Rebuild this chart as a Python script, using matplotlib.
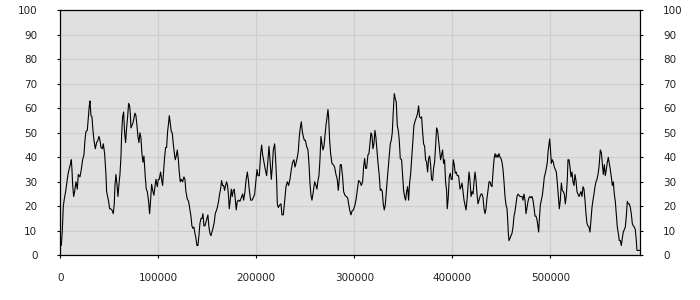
import numpy as np
from matplotlib import pyplot as plt

plt.rcParams.update({'font.size': 7.5, 'font.family': 'DejaVu Sans'})

# first stretch (0 .. ~183k)
pos_a = [0, 1020, 2040, 3060, 4080, 5440, 6460, 7820, 9180, 10540,
         11220, 11900, 12580, 13600, 14620, 15980, 17340, 18360, 20060, 21420,
         22780, 24140, 25160, 26180, 27540, 28560, 29580, 30260, 31280, 32300,
         33320, 34340, 35700, 37060, 38420, 39440, 40460, 41480, 42840, 43860,
         45220, 46580, 47260, 48280, 49300, 50320, 51340, 52700, 54060, 55080,
         55760, 56780, 57800, 58820, 59840, 60860, 61880, 62560, 63580, 64600,
         65620, 66640, 67660, 68680, 69700, 70720, 71400, 72080, 73100, 74120,
         75140, 76160, 77180, 78200, 79220, 80240, 81260, 82280, 83300, 84320,
         85340, 86700, 87720, 88740, 90100, 91120, 92140, 93160, 94520, 95540,
         96560, 97580, 98940, 99960, 100980, 102340, 103360, 104380, 105400, 106420,
         107440, 108460, 109480, 110500, 111180, 112200, 113220, 114240, 115260, 116280,
         117300, 118320, 119340, 120360, 121380, 122400, 123420, 124780, 126140, 127160,
         128180, 129540, 130900, 132260, 133280, 134300, 135320, 136340, 137360, 138380,
         139400, 140420, 141440, 142460, 143480, 144500, 145520, 146540, 147560, 148580,
         149600, 150620, 151640, 152660, 153680, 154700, 156060, 157080, 158100, 159460,
         160480, 161500, 162520, 163540, 164560, 165580, 166600, 167620, 168640, 169660,
         170680, 171700, 172380, 173400, 174420, 175440, 176460, 177480, 178500, 179520,
         180540, 181900, 183260]
val_a = [5, 4, 10, 20, 23, 26, 29, 33, 35.5, 37.5,
         39, 35, 29, 24, 26, 30, 27, 33, 32, 35,
         39, 41, 47, 50.5, 51, 56, 61, 63, 57, 56.5,
         51, 47, 43.5, 46, 47, 48.5, 47, 44, 43.5, 45.5,
         41.5, 33, 26, 24, 22, 19, 19, 18.5, 17, 21,
         28.5, 33, 29, 24, 29, 33, 40, 49, 56.5, 58.5,
         50, 46, 52, 56.5, 62, 61, 58, 52, 53, 54,
         56, 58, 57, 53, 48.5, 46, 50, 48, 41.5, 38,
         40.5, 32, 27, 26, 22, 17, 22.5, 29, 26, 24.5,
         28, 31, 28, 31, 31, 34, 31, 28.5, 34, 40,
         44, 44, 50.5, 54, 57, 54, 50.5, 50, 45.5, 42,
         39, 40.5, 43, 39.5, 34, 30, 31, 30, 32, 31,
         26, 23, 22, 18.5, 16, 12, 11, 11.5, 9, 7,
         4, 4, 8, 13, 15, 15, 17, 12, 12, 13.5,
         15, 16.5, 11.5, 9, 8, 9.5, 11.5, 13.5, 17, 18.5,
         20, 22, 25, 27, 30.5, 28.5, 28.5, 26.5, 28.5, 30,
         28.5, 24, 19, 22.5, 27, 24, 26.5, 27, 23, 18.5,
         22, 22.5, 22]

# middle stretch (~184k .. ~407k)
pos_b = [184700, 186060, 187080, 188440, 189460, 190820, 191840, 192860, 194220, 195580,
         196940, 198300, 199660, 200680, 201700, 203060, 204420, 205440, 206460, 207820,
         209180, 210540, 211900, 212920, 213940, 215300, 216320, 217340, 218700, 219720,
         220740, 221420, 222440, 223800, 225160, 226180, 227540, 228900, 230260, 231620,
         232980, 234340, 235700, 237060, 238420, 239440, 240460, 241820, 242840, 243860,
         244880, 245900, 246920, 247940, 248960, 249980, 251340, 252700, 253720, 254740,
         255760, 256780, 258140, 259500, 260860, 261880, 262900, 263920, 264940, 265960,
         266980, 268000, 269020, 270040, 271060, 272080, 273100, 273780, 274800, 275820,
         277180, 278540, 279900, 281260, 282620, 283640, 284660, 285680, 286700, 288060,
         289080, 290440, 291800, 293160, 294180, 295540, 296560, 297580, 298940, 300300,
         301660, 303020, 304380, 305740, 307100, 308460, 309480, 310500, 311520, 312540,
         313900, 314920, 315940, 316960, 317980, 319000, 320020, 321040, 322060, 323080,
         324100, 325460, 326480, 327500, 328520, 329540, 330560, 331580, 332600, 333620,
         334640, 335660, 336680, 337700, 338720, 339740, 340760, 341780, 342800, 343820,
         344840, 345860, 346880, 348240, 349260, 350280, 351300, 352320, 353340, 354360,
         355380, 356400, 357420, 358440, 359460, 360820, 362180, 363540, 364560, 365580,
         366600, 367620, 368640, 369660, 370680, 371700, 372720, 373740, 374760, 375780,
         376800, 377820, 378840, 379860, 380880, 381900, 382920, 383940, 384960, 385980,
         387000, 388020, 389040, 390060, 391080, 392100, 393120, 394140, 394820, 395840,
         396860, 397880, 398900, 399920, 400940, 401960, 402980, 404000, 405020, 406380,
         407400]
val_b = [23.5, 25, 22.5, 26, 30.5, 34, 31, 26.5, 22.5, 22.5,
         23.5, 25, 30.5, 35, 32.5, 32.5, 41.5, 45, 41, 38,
         35, 32.5, 39, 44.5, 39, 31, 36, 43, 45.5, 39,
         30.5, 21, 19.5, 20.5, 21, 16.5, 16.5, 22, 28, 30,
         28.5, 31, 35, 38, 39, 36, 37.5, 40, 42.5, 48.5,
         52, 54.5, 50.5, 48.5, 47, 47, 44.5, 43, 37.5, 29.5,
         24.5, 22.5, 26, 30, 28.5, 27, 30.5, 32.5, 39, 48.5,
         45.5, 43, 44.5, 49, 53, 56, 59.5, 56.5, 47, 41.5,
         37.5, 37, 36, 33, 31, 26.5, 31, 37, 37, 32,
         26, 24.5, 24, 23.5, 21, 18, 16.5, 18, 18.5, 20,
         22.5, 26.5, 30.5, 30, 28.5, 30, 36, 39.5, 35.5, 35.5,
         41, 41.5, 45.5, 50, 49, 43.5, 45.5, 51, 48, 43,
         38, 32.5, 26.5, 27, 26, 21, 18.5, 20.5, 26, 31,
         36, 41, 45.5, 47, 50, 58.5, 66, 64, 62.5, 53,
         51, 47, 39.5, 39, 32.5, 26.5, 24, 22.5, 26, 28,
         22.5, 29.5, 33, 39, 45.5, 53, 55, 56.5, 58, 61,
         56.5, 56, 56.5, 50.5, 45.5, 44.5, 39, 38, 34, 39.5,
         40.5, 37, 31, 30.5, 35.5, 38, 44.5, 52, 51, 47,
         43, 39, 41, 43, 37.5, 39, 30, 26.5, 19, 23.5,
         32, 33.5, 31, 31, 39, 37, 33.5, 34, 32.5, 32.5,
         28.5]

# last stretch (~408k .. end)
pos_c = [407860, 408880, 409900, 410920, 411940, 412960, 413980, 415000, 416020, 417040,
         418060, 419080, 420100, 421120, 422140, 423160, 424180, 425200, 426220, 427240,
         428260, 429280, 430300, 431320, 432340, 433360, 434380, 435400, 436420, 437440,
         438460, 439480, 440500, 441520, 442540, 443560, 444580, 445600, 446620, 447640,
         448660, 449680, 450700, 451720, 452740, 453760, 454780, 455800, 456480, 457160,
         457840, 458860, 459880, 460900, 461920, 462940, 463960, 464980, 466000, 467020,
         468040, 469060, 470080, 471100, 472120, 473140, 474160, 475180, 476200, 477220,
         478240, 479260, 480280, 481300, 482320, 483340, 484360, 485380, 486400, 487420,
         488100, 488780, 489800, 490820, 491840, 492860, 493880, 494900, 495920, 496940,
         497620, 498640, 499320, 500000, 501020, 502040, 503060, 504080, 505100, 506120,
         507140, 508160, 509180, 510200, 511220, 512240, 513260, 514280, 515300, 516320,
         517340, 518020, 519040, 520060, 521080, 522100, 523120, 524140, 525160, 526180,
         527200, 528220, 529240, 530260, 531280, 532300, 533320, 534340, 535360, 536380,
         537400, 538420, 539440, 540460, 541480, 542500, 543520, 544540, 545560, 546580,
         547600, 548620, 549640, 550320, 551000, 552020, 553040, 554060, 555080, 556100,
         557120, 558140, 559160, 560180, 561200, 562220, 563240, 564260, 565280, 566300,
         567320, 568340, 569360, 570380, 571400, 572420, 573440, 574460, 575480, 576500,
         577520, 578540, 579560, 580580, 581600, 582620, 583640, 584660, 585680, 586700,
         587720, 588400, 589420, 590440, 591460]
val_c = [27, 28, 29.5, 26, 22.5, 20.5, 18.5, 22.5, 28, 34,
         30.5, 24, 26, 25, 30, 34, 30.5, 25, 21, 22.5,
         24, 25, 25, 23.5, 19, 17, 19, 23.5, 26.5, 30,
         30, 28.5, 28, 34, 39, 41.5, 40, 41, 40, 41.5,
         40, 39.5, 38, 35, 30, 24, 20.5, 19, 14.5, 9,
         6, 7, 8, 9, 11.5, 16, 18, 21, 24, 25,
         24.5, 24, 24, 24, 22.5, 25, 22.5, 17, 19.5, 22,
         23.5, 24, 23.5, 24, 22.5, 19.5, 16, 16, 14.5, 11.5,
         9.5, 14.5, 20.5, 22.5, 24.5, 28, 32, 33.5, 35.5, 38,
         42, 45.5, 47.5, 44, 37.5, 39, 38, 36, 35, 34,
         29.5, 24, 19, 22.5, 29.5, 26.5, 26, 25, 21, 24.5,
         31, 39, 39, 36, 32, 34, 30, 28.5, 33, 30.5,
         26, 25, 24, 25, 26, 24, 28, 27, 22.5, 17,
         13, 12, 11.5, 9.5, 14.5, 19.5, 22.5, 25, 28, 30,
         31, 33, 36, 39.5, 43, 42, 37.5, 33, 37, 32.5,
         35, 38, 40, 37.5, 35, 32, 28.5, 30, 25, 22,
         17, 11.5, 9, 6, 6, 4, 7, 9.5, 10.5, 11.5,
         16, 22, 21, 21, 19.5, 17, 13, 12, 11.5, 10.5,
         6, 2, 2, 2, 2]

x = np.array(pos_a + pos_b + pos_c)
y = np.array(val_a + val_b + val_c)

fig = plt.figure(figsize=(7, 3), dpi=100)
ax = fig.add_axes([60.3 / 700, 44.7 / 300, 580 / 700, 245 / 300])
ax.set_facecolor('#e0e0e0')

ax.plot(x, y, color='black', linewidth=0.8)

ax.set_xlim(0, 591800)
ax.set_ylim(0, 100)
ax.set_xticks(range(0, 600000, 100000))
ax.set_yticks(range(0, 101, 10))
ax.grid(True, color='#cecece', linewidth=0.9)
ax.set_axisbelow(True)

for s in ax.spines.values():
    s.set_color('black')
    s.set_linewidth(0.9)

ax.tick_params(axis='y', which='both', left=True, right=True, labelleft=True,
               labelright=True, length=2.5, width=0.8, pad=14, colors='black',
               labelcolor='#222222')
ax.tick_params(axis='x', length=2.5, width=0.8, pad=10, labelcolor='#222222')

plt.savefig('out.png', dpi=100)
